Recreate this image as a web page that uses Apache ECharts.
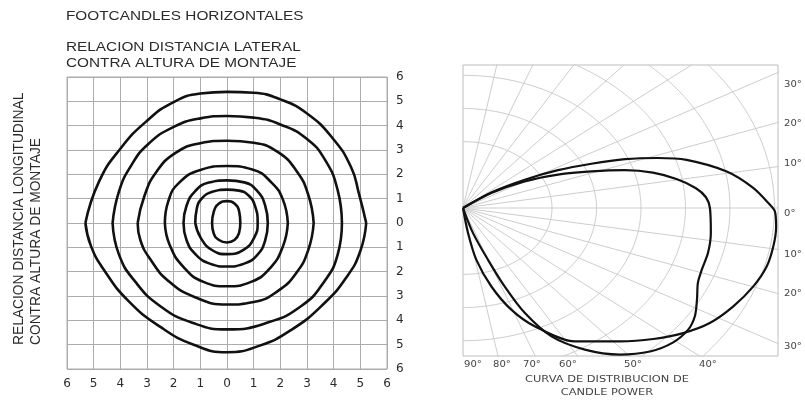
<!DOCTYPE html>
<html>
<head>
<meta charset="utf-8">
<title>Footcandles horizontales / Curva de distribucion de candle power</title>
<script src="https://cdn.jsdelivr.net/npm/echarts@6/dist/echarts.min.js"></script>
<style>
  html, body { margin: 0; padding: 0; background: #fff; }
  #chart { width: 805px; height: 400px; }
</style>
</head>
<body>
<div id="chart"></div>
<script>
// isolux lines, in mounting heights (x = lateral, y = longitudinal)
// every list starts at the left tip, goes over the top to the right tip, and back under the bottom
const contour1 = [[-0.56,0],[-0.5,0.45],[-0.3,0.8],[0,0.9],[0.28,0.8],[0.46,0.45],[0.5,0],[0.45,-0.42],[0.28,-0.7],[0,-0.8],[-0.3,-0.7],[-0.5,-0.42],[-0.56,0]];
const contour2 = [[-1.19,0],[-1.14,0.55],[-0.95,1.0],[-0.55,1.28],[0,1.37],[0.45,1.33],[0.82,1.12],[1.05,0.7],[1.15,0],[1.02,-0.6],[0.62,-1.1],[0,-1.28],[-0.55,-1.12],[-0.98,-0.62],[-1.19,0]];
const contour3 = [[-1.63,0],[-1.52,0.7],[-1.2,1.3],[-0.68,1.66],[0,1.75],[0.65,1.67],[1.13,1.32],[1.43,0.72],[1.53,0],[1.43,-0.72],[1.13,-1.32],[0.62,-1.68],[0,-1.79],[-0.62,-1.68],[-1.15,-1.32],[-1.52,-0.7],[-1.63,0]];
const contour4 = [[-2.33,0],[-2.2,0.9],[-1.8,1.65],[-1.0,2.18],[0,2.34],[0.95,2.2],[1.68,1.65],[2.1,0.95],[2.28,0],[2.1,-0.95],[1.62,-1.85],[0.9,-2.42],[0,-2.6],[-0.88,-2.42],[-1.62,-1.82],[-2.15,-0.9],[-2.33,0]];
const contour5 = [[-3.35,0],[-3.1,1.1],[-2.65,2.1],[-1.9,2.9],[-1.0,3.28],[0,3.38],[1.0,3.3],[1.9,2.92],[2.6,2.15],[3.05,1.15],[3.25,0],[3.05,-1.1],[2.6,-2.05],[1.9,-2.8],[1.0,-3.25],[0,-3.35],[-1.2,-3.05],[-2.2,-2.38],[-2.87,-1.5],[-3.25,-0.7],[-3.35,0]];
const contour6 = [[-4.29,0],[-4.05,1.3],[-3.6,2.35],[-2.95,3.25],[-2.0,3.95],[-1.0,4.3],[0,4.4],[1.0,4.33],[2.0,4.05],[3.0,3.45],[3.7,2.55],[4.15,1.35],[4.31,0],[4.15,-1.3],[3.65,-2.4],[2.8,-3.4],[1.5,-4.1],[0,-4.37],[-1.3,-4.1],[-2.5,-3.42],[-3.45,-2.4],[-4.05,-1.3],[-4.29,0]];
const contour7 = [[-5.31,0],[-4.8,1.7],[-4.0,3.05],[-3.0,4.2],[-2.0,4.97],[-1.0,5.32],[0,5.39],[1.0,5.35],[2.0,5.08],[3.0,4.5],[3.95,3.5],[4.65,2.3],[4.95,1.2],[5.22,0],[5.0,-1.15],[4.5,-2.2],[3.6,-3.35],[2.4,-4.4],[1.2,-5.05],[0,-5.31],[-1.25,-5.0],[-2.5,-4.27],[-3.7,-3.2],[-4.6,-1.95],[-5.1,-0.95],[-5.31,0]];
const lateralTicks = ['6','5','4','3','2','1','0','1','2','3','4','5','6'];

// candle power distribution: angle from horizontal (deg, + up) and radius in grid rings
const curveAAngle  = [36, 35.4, 30.0, 25.2, 20.9, 17.4, 14.0, 10.2, 6.5, 3.4, 0, -7.6, -13.7, -19.1, -23.1, -27.7, -32.1, -36.0, -40.7, -45.8, -51.4, -57.3, -62.8, -66.3, -68.4, -70.2, -73.4, -75];
const curveARadius = [0, 0.78, 1.60, 2.36, 3.09, 3.81, 4.40, 4.89, 5.27, 5.47, 5.55, 5.62, 5.67, 5.68, 5.74, 5.94, 6.15, 6.25, 6.22, 6.03, 5.65, 5.07, 4.35, 3.45, 2.54, 1.66, 0.79, 0];
const curveBAngle  = [38, 36.5, 31.6, 28.1, 24.8, 22.0, 19.0, 16.1, 10.5, 5.3, 0.8, -0.8, -4.5, -9.4, -14.5, -19.9, -26.0, -32.0, -37.3, -42.7, -48.7, -58.0, -65.7, -70.5, -74.9, -79.1, -81.5, -82];
const curveBRadius = [0, 0.79, 1.63, 2.42, 3.18, 3.93, 4.63, 5.23, 6.03, 6.55, 6.90, 7.01, 7.06, 7.07, 7.05, 6.94, 6.76, 6.54, 6.22, 5.82, 5.35, 4.74, 3.91, 3.25, 2.45, 1.59, 0.76, 0];
const ringRadii = [2, 3, 4, 5, 6, 7];
const rayAngles = [-80, -70, -60, -50, -40, -30, -20, -10, 0, 10, 20, 30, 40, 50, 60, 70, 80];
const sideAngleLabels = ['30°', '20°', '10°', '0°', '10°', '20°', '30°'];
const bottomAngleLabels = ['90°', '80°', '70°', '60°', '50°', '40°'];

const chart = echarts.init(document.getElementById('chart'));

const rad = d => d * Math.PI / 180;
const toXY = (a, r) => [r * Math.cos(rad(a)), r * Math.sin(rad(a))];

const GRID_GREY = '#acacac';
const POLAR_GREY = '#cdcdcd';
const INK = '#111';

const series = [];

function contourLine(pts) {
  return {
    type: 'line', xAxisIndex: 0, yAxisIndex: 0, data: pts,
    smooth: 0.5, showSymbol: false, silent: true,
    lineStyle: { color: INK, width: 2.6 }
  };
}

[contour1, contour2, contour3, contour4, contour5, contour6, contour7].forEach((pts, i) => {
  if (i < 2) {
    series.push(contourLine(pts));
  } else {
    // keep the pointed tips: draw upper and lower halves separately
    let iMax = 0;
    pts.forEach((p, j) => { if (p[0] > pts[iMax][0]) iMax = j; });
    series.push(contourLine(pts.slice(0, iMax + 1)));
    series.push(contourLine(pts.slice(iMax)));
  }
});

// polar grid: rays and rings
rayAngles.forEach(a => {
  series.push({
    type: 'line', xAxisIndex: 1, yAxisIndex: 1, clip: true,
    data: [[0, 0], toXY(a, 20)], showSymbol: false, silent: true,
    lineStyle: { color: POLAR_GREY, width: 1 }
  });
});
ringRadii.forEach(r => {
  const pts = [];
  for (let a = -90; a <= 90; a += 1) pts.push(toXY(a, r));
  series.push({
    type: 'line', xAxisIndex: 1, yAxisIndex: 1, clip: true,
    data: pts, showSymbol: false, silent: true,
    lineStyle: { color: POLAR_GREY, width: 1 }
  });
});

[[curveAAngle, curveARadius], [curveBAngle, curveBRadius]].forEach(([ang, rr]) => {
  series.push({
    type: 'line', xAxisIndex: 1, yAxisIndex: 1, clip: true,
    data: ang.map((a, i) => toXY(a, rr[i])),
    smooth: 0.3, showSymbol: false, silent: true, z: 5,
    lineStyle: { color: INK, width: 2.2 }
  });
});

const titleFont = '13px "Liberation Sans", Arial, sans-serif';
const roundFont = px => px + 'px "DejaVu Sans", sans-serif';

function text(x, y, str, font, opts) {
  return Object.assign({
    type: 'text', x: x, y: y, silent: true,
    style: { text: str, font: font, fill: '#2b2b2b', textAlign: 'left', textVerticalAlign: 'middle' }
  }, opts || {});
}

const sideY = [85, 124, 164, 214, 255, 294, 347];
const bottomX = [473, 502, 532, 568, 633, 708];

const graphics = [
  text(66, 16, 'FOOTCANDLES HORIZONTALES', titleFont, { scaleX: 1.18 }),
  text(66, 47, 'RELACION DISTANCIA LATERAL', titleFont, { scaleX: 1.18 }),
  text(66, 63, 'CONTRA ALTURA DE MONTAJE', titleFont, { scaleX: 1.18 }),
  text(19, 345, 'RELACION DISTANCIA LONGITUDINAL', titleFont, { rotation: Math.PI / 2, scaleX: 1.06, scaleY: 1.15 }),
  text(36, 345, 'CONTRA ALTURA DE MONTAJE', titleFont, { rotation: Math.PI / 2, scaleX: 1.06, scaleY: 1.15 })
];
sideAngleLabels.forEach((s, i) => {
  const t = text(784, sideY[i], s, roundFont(8.5), { scaleX: 1.18 });
  t.style.fill = '#444';
  graphics.push(t);
});
bottomAngleLabels.forEach((s, i) => {
  const t = text(bottomX[i], 365, s, roundFont(8.5), { scaleX: 1.18 });
  t.style.fill = '#444';
  t.style.textAlign = 'center';
  graphics.push(t);
});
['CURVA DE DISTRIBUCION DE', 'CANDLE POWER'].forEach((s, i) => {
  const t = text(607, 380 + i * 13, s, roundFont(9.5), { scaleX: 1.2 });
  t.style.fill = '#444';
  t.style.textAlign = 'center';
  graphics.push(t);
});

const tickLabel = {
  color: '#2b2b2b', fontSize: 12, fontFamily: '"DejaVu Sans", sans-serif', margin: 9,
  formatter: v => lateralTicks[Math.round(v) + 6]
};

chart.setOption({
  animation: false,
  backgroundColor: '#fff',
  grid: [
    { left: 67, top: 77, width: 320, height: 292, show: true, borderColor: GRID_GREY, borderWidth: 1 },
    { left: 463, top: 65, width: 315, height: 291, show: true, borderColor: '#bdbdbd', borderWidth: 1 }
  ],
  xAxis: [
    {
      type: 'value', gridIndex: 0, min: -6, max: 6, interval: 1,
      axisLine: { show: false }, axisTick: { show: false },
      splitLine: { show: true, lineStyle: { color: GRID_GREY, width: 1 } },
      axisLabel: tickLabel
    },
    { type: 'value', gridIndex: 1, min: 0, max: 7.08, show: false, splitLine: { show: false } }
  ],
  yAxis: [
    {
      type: 'value', gridIndex: 0, position: 'right', min: -6, max: 6, interval: 1,
      axisLine: { show: false }, axisTick: { show: false },
      splitLine: { show: true, lineStyle: { color: GRID_GREY, width: 1 } },
      axisLabel: tickLabel
    },
    { type: 'value', gridIndex: 1, min: -4.46, max: 4.31, show: false, splitLine: { show: false } }
  ],
  graphic: graphics,
  series: series
});
</script>
</body>
</html>
